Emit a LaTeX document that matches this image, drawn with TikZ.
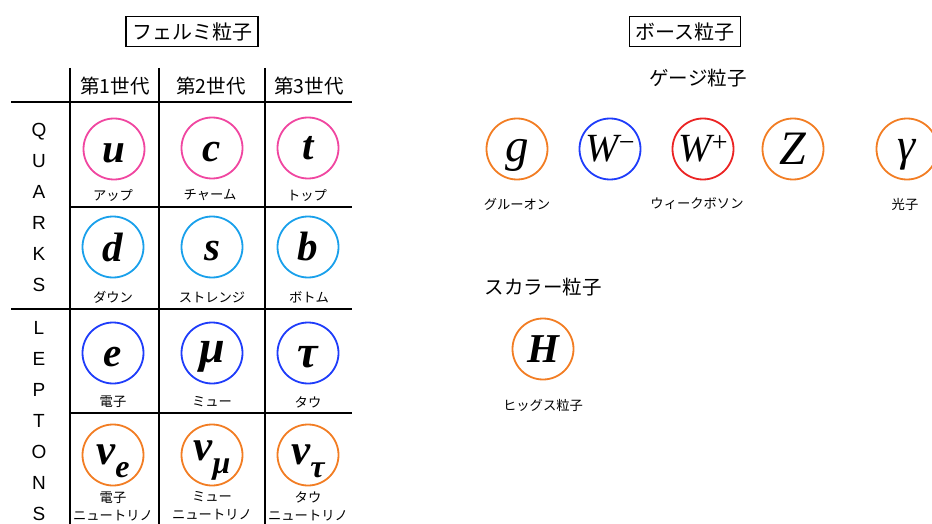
\documentclass[tikz,border=0pt]{standalone}
\usepackage{fontspec}
\setmainfont{Liberation Sans}
\newfontfamily\jp{Noto Sans CJK JP}
\newfontfamily\sym{Liberation Serif}
\newcommand\lo[2][4pt]{\raisebox{-#1}[\height][\depth]{#2}}
\newcommand\nusub[1]{\lo[6pt]{ν\raisebox{-13pt}{\fontsize{32}{32}\selectfont #1}}}
\definecolor{cpink}{RGB}{240,70,160}
\definecolor{clblue}{RGB}{25,160,235}
\definecolor{cblue}{RGB}{30,60,250}
\definecolor{corange}{RGB}{242,125,35}
\definecolor{cred}{RGB}{235,35,35}
\tikzset{
  part/.style={circle,draw=#1,line width=1.8pt,minimum size=61pt,inner sep=0pt,font=\sym\fontsize{41}{41}\selectfont\bfseries\itshape},
  lbl/.style={font=\jp\fontsize{13.3}{18}\selectfont,align=center,inner sep=0pt},
  head/.style={font=\jp\fontsize{19.5}{22}\selectfont,inner sep=0pt},
  titlebox/.style={draw,line width=1.3pt,font=\jp\fontsize{20}{22}\selectfont,inner xsep=6pt,inner ysep=5.5pt},
  grid/.style={line width=1.8pt},
  side/.style={font=\fontsize{19}{31}\selectfont,align=center,inner sep=0pt}
}
\begin{document}
\begin{tikzpicture}[x=1pt,y=-1pt]
\useasboundingbox (0,0) rectangle (932,524);
% titles
\node[titlebox] (fermi) at (192,31.5) {フェルミ粒子};
\node[titlebox] (bose) at (685,31.5) {ボース粒子};
% grid
\coordinate (v1t) at (70,68); \coordinate (v1b) at (70,524);
\coordinate (v2t) at (159,68); \coordinate (v2b) at (159,524);
\coordinate (v3t) at (265,68); \coordinate (v3b) at (265,524);
\coordinate (h1l) at (11,102); \coordinate (h1r) at (352,102);
\coordinate (h2l) at (70,207); \coordinate (h2r) at (352,207);
\coordinate (h3l) at (11,309); \coordinate (h3r) at (352,309);
\coordinate (h4l) at (70,413); \coordinate (h4r) at (352,413);
\draw[grid] (v1t) -- (v1b);
\draw[grid] (v2t) -- (v2b);
\draw[grid] (v3t) -- (v3b);
\draw[grid] (h1l) -- (h1r);
\draw[grid] (h2l) -- (h2r);
\draw[grid] (h3l) -- (h3r);
\draw[grid] (h4l) -- (h4r);
% generation headers
\node[head] (g1) at (115,86) {第1世代};
\node[head] (g2) at (211,86) {第2世代};
\node[head] (g3) at (309,86) {第3世代};
% side labels
\node[side] (quarks) at (39,207) {Q\\U\\A\\R\\K\\S};
\node[side] (leptons) at (39,421.5) {L\\E\\P\\T\\O\\N\\S};
% quarks
\node[part=cpink] (u) at (114,149) {\lo{u}};
\node[part=cpink] (c) at (212,148) {\lo{c}};
\node[part=cpink] (t) at (308,148) {t};
\node[lbl] (lu) at (113,195) {アップ};
\node[lbl] (lc) at (210,195) {チャーム};
\node[lbl] (lt) at (307,195) {トップ};
\node[part=clblue] (d) at (113,247) {d};
\node[part=clblue] (s) at (212,247) {\lo{s}};
\node[part=clblue] (b) at (308,247) {b};
\node[lbl] (ld) at (113,297) {ダウン};
\node[lbl] (ls) at (212,297) {ストレンジ};
\node[lbl] (lb) at (309,297) {ボトム};
% leptons
\node[part=cblue] (e) at (113,353) {\lo{e}};
\node[part=cblue,font=\sym\fontsize{46}{46}\selectfont\bfseries\itshape] (mu) at (212,353) {\lo{μ}};
\node[part=cblue,font=\sym\fontsize{46}{46}\selectfont\bfseries\itshape] (tau) at (308,353) {\lo{τ}};
\node[lbl] (le) at (113,402) {電子};
\node[lbl] (lmu) at (212,402) {ミュー};
\node[lbl] (ltau) at (308,402) {タウ};
\node[part=corange,font=\sym\fontsize{43}{43}\selectfont\bfseries\itshape] (ne) at (113,455) {\nusub{e}};
\node[part=corange,font=\sym\fontsize{43}{43}\selectfont\bfseries\itshape] (nmu) at (212,455) {\nusub{μ}};
\node[part=corange,font=\sym\fontsize{43}{43}\selectfont\bfseries\itshape] (ntau) at (308,455) {\nusub{τ}};
\node[lbl] (lne) at (113,506) {電子\\ニュートリノ};
\node[lbl] (lnmu) at (212,506) {ミュー\\ニュートリノ};
\node[lbl] (lntau) at (308,506) {タウ\\ニュートリノ};
% gauge bosons
\node[head] (gauge) at (698,78) {ゲージ粒子};
\node[part=corange,font=\sym\fontsize{47}{47}\selectfont\itshape] (g) at (517,149) {\lo[6pt]{g}};
\node[part=cblue,font=\sym\fontsize{40}{40}\selectfont\itshape] (wm) at (610,149) {W\raisebox{10pt}{\fontsize{28}{28}\selectfont\upshape −}};
\node[part=cred,font=\sym\fontsize{40}{40}\selectfont\itshape] (wp) at (703,149) {W\raisebox{10pt}{\fontsize{28}{28}\selectfont\upshape +}};
\node[part=corange,font=\sym\fontsize{48}{48}\selectfont\itshape] (z) at (793,149) {Z};
\node[part=corange,font=\sym\fontsize{46}{46}\selectfont\itshape] (gamma) at (907,149) {\lo[6pt]{γ}};
\node[lbl] (lg) at (517,204) {グルーオン};
\node[lbl] (lw) at (697,204) {ウィークボソン};
\node[lbl] (lgamma) at (905,204) {光子};
% scalar
\node[head] (scalar) at (543,287) {スカラー粒子};
\node[part=corange] (h) at (543,349) {H};
\node[lbl] (lh) at (543,405) {ヒッグス粒子};
\end{tikzpicture}
\end{document}
